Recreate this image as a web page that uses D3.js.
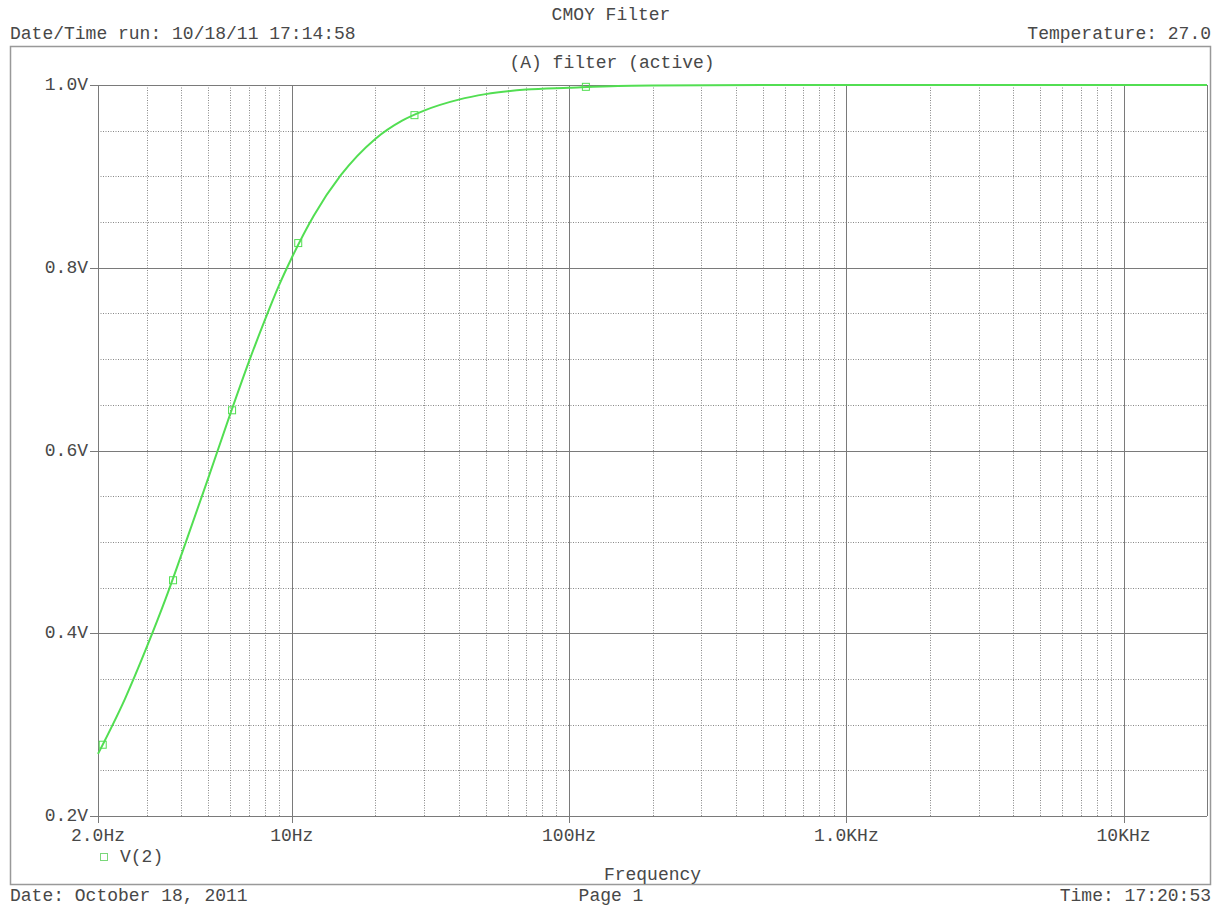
<!DOCTYPE html>
<html lang="en">
<head>
    <meta charset="UTF-8"/>
    <title>CMOY Filter</title>
    <script src="https://cdnjs.cloudflare.com/ajax/libs/d3/7.8.5/d3.min.js"></script>
    <style>
        body { margin: 0; background: #fff; }
        text { font-family: "Liberation Mono", "Courier New", monospace; font-size: 18px; fill: #484848; }
    </style>
</head>
<body>
<div id="chart"></div>

<script>
    // Data: V(2) vs frequency
    const freqs = [2, 2.5, 3, 3.5, 4, 5, 6, 7, 8, 9, 10, 12, 15, 20, 25, 30, 40, 50, 70, 100, 150, 200, 500, 1000, 20000];
    const volts = [0.268, 0.328, 0.385, 0.437, 0.486, 0.570, 0.640, 0.697, 0.743, 0.781, 0.811, 0.857, 0.901, 0.941, 0.961, 0.972, 0.984, 0.990, 0.995, 0.997, 0.999, 0.9995, 1.0, 1.0, 1.0];
    // Marker positions along the trace
    const markerFreqs = [2.08, 3.73, 6.09, 10.55, 27.7, 115];
    const markerVolts = [0.278, 0.458, 0.644, 0.827, 0.967, 0.998];

    const xTicks = [2, 10, 100, 1000, 10000];
    const xTickLabels = ["2.0Hz", "10Hz", "100Hz", "1.0KHz", "10KHz"];
    const yTicks = [0.2, 0.4, 0.6, 0.8, 1.0];
    const yTickLabels = ["0.2V", "0.4V", "0.6V", "0.8V", "1.0V"];

    const width = 1216;
    const height = 908;
    const plot = {left: 98, right: 1207, top: 85, bottom: 816};
    const green = "#52de52";

    const svg = d3
        .select("#chart")
        .append("svg")
        .attr("width", width)
        .attr("height", height);

    const xScale = d3
        .scaleLog()
        .domain([2, 20000])
        .range([plot.left, plot.right]);

    const yScale = d3
        .scaleLinear()
        .domain([0.2, 1.0])
        .range([plot.bottom, plot.top]);

    // Outer page frame
    svg
        .append("rect")
        .attr("x", 10.5)
        .attr("y", 46.5)
        .attr("width", 1200)
        .attr("height", 838)
        .attr("fill", "none")
        .attr("stroke", "#999")
        .attr("stroke-width", 1.5);

    // Minor grid lines (dotted)
    const minorX = [];
    for (let d = 1; d <= 10000; d *= 10) {
        for (let m = 2; m <= 9; m++) {
            const f = d * m;
            if (f > 2 && f < 20000) minorX.push(f);
        }
    }
    const minorY = d3.range(0.25, 1.0, 0.05).filter(v => Math.abs(v * 5 - Math.round(v * 5)) > 0.01);

    const grid = svg.append("g").attr("class", "grid");

    grid
        .selectAll(".minor-x")
        .data(minorX)
        .enter()
        .append("line")
        .attr("x1", d => Math.round(xScale(d)) + 0.5)
        .attr("x2", d => Math.round(xScale(d)) + 0.5)
        .attr("y1", plot.top)
        .attr("y2", plot.bottom)
        .attr("stroke", "#888")
        .attr("stroke-dasharray", "1,1.5");

    grid
        .selectAll(".minor-y")
        .data(minorY)
        .enter()
        .append("line")
        .attr("x1", plot.left)
        .attr("x2", plot.right)
        .attr("y1", d => Math.round(yScale(d)) + 0.5)
        .attr("y2", d => Math.round(yScale(d)) + 0.5)
        .attr("stroke", "#888")
        .attr("stroke-dasharray", "1,1.5");

    // Major grid lines (solid)
    grid
        .selectAll(".major-x")
        .data([10, 100, 1000, 10000])
        .enter()
        .append("line")
        .attr("x1", d => Math.round(xScale(d)) + 0.5)
        .attr("x2", d => Math.round(xScale(d)) + 0.5)
        .attr("y1", plot.top)
        .attr("y2", plot.bottom + 7)
        .attr("stroke", "#7a7a7a");

    grid
        .selectAll(".major-y")
        .data(yTicks)
        .enter()
        .append("line")
        .attr("x1", plot.left - 8)
        .attr("x2", plot.right)
        .attr("y1", d => Math.round(yScale(d)) + 0.5)
        .attr("y2", d => Math.round(yScale(d)) + 0.5)
        .attr("stroke", "#7a7a7a");

    // Plot box left/right edges
    svg
        .append("line")
        .attr("x1", plot.left + 0.5)
        .attr("x2", plot.left + 0.5)
        .attr("y1", plot.top)
        .attr("y2", plot.bottom + 7)
        .attr("stroke", "#7a7a7a");

    svg
        .append("line")
        .attr("x1", plot.right + 0.5)
        .attr("x2", plot.right + 0.5)
        .attr("y1", plot.top)
        .attr("y2", plot.bottom)
        .attr("stroke", "#7a7a7a");

    // Tick labels
    svg
        .selectAll(".y-label")
        .data(yTicks)
        .enter()
        .append("text")
        .attr("x", plot.left - 10)
        .attr("y", d => yScale(d) + 5)
        .attr("text-anchor", "end")
        .text((d, i) => yTickLabels[i]);

    svg
        .selectAll(".x-label")
        .data(xTicks)
        .enter()
        .append("text")
        .attr("x", d => xScale(d))
        .attr("y", 841)
        .attr("text-anchor", "middle")
        .text((d, i) => xTickLabels[i]);

    // Trace
    const line = d3
        .line()
        .x((d, i) => xScale(freqs[i]))
        .y(d => yScale(d))
        .curve(d3.curveMonotoneX);

    svg
        .append("path")
        .datum(volts)
        .attr("d", line)
        .attr("fill", "none")
        .attr("stroke", green)
        .attr("stroke-width", 2);

    svg
        .selectAll(".marker")
        .data(markerVolts)
        .enter()
        .append("rect")
        .attr("x", (d, i) => xScale(markerFreqs[i]) - 3.5)
        .attr("y", d => yScale(d) - 3.5)
        .attr("width", 7)
        .attr("height", 7)
        .attr("fill", "none")
        .attr("stroke", green)
        .attr("stroke-width", 1);

    // Legend
    svg
        .append("rect")
        .attr("x", 100.5)
        .attr("y", 853.5)
        .attr("width", 7)
        .attr("height", 7)
        .attr("fill", "none")
        .attr("stroke", "#7ad87a");

    svg
        .append("text")
        .attr("x", 120)
        .attr("y", 862)
        .text("V(2)");

    // Header and footer texts
    svg.append("text").attr("x", 611).attr("y", 20).attr("text-anchor", "middle").text("CMOY Filter");
    svg.append("text").attr("x", 10).attr("y", 39).text("Date/Time run: 10/18/11 17:14:58");
    svg.append("text").attr("x", 1211).attr("y", 39).attr("text-anchor", "end").text("Temperature: 27.0");
    svg.append("text").attr("x", 612).attr("y", 68).attr("text-anchor", "middle").text("(A) filter (active)");
    svg.append("text").attr("x", (plot.left + plot.right) / 2).attr("y", 880).attr("text-anchor", "middle").text("Frequency");
    svg.append("text").attr("x", 10).attr("y", 901).text("Date: October 18, 2011");
    svg.append("text").attr("x", 611).attr("y", 901).attr("text-anchor", "middle").text("Page 1");
    svg.append("text").attr("x", 1211).attr("y", 901).attr("text-anchor", "end").text("Time: 17:20:53");
</script>
</body>
</html>
